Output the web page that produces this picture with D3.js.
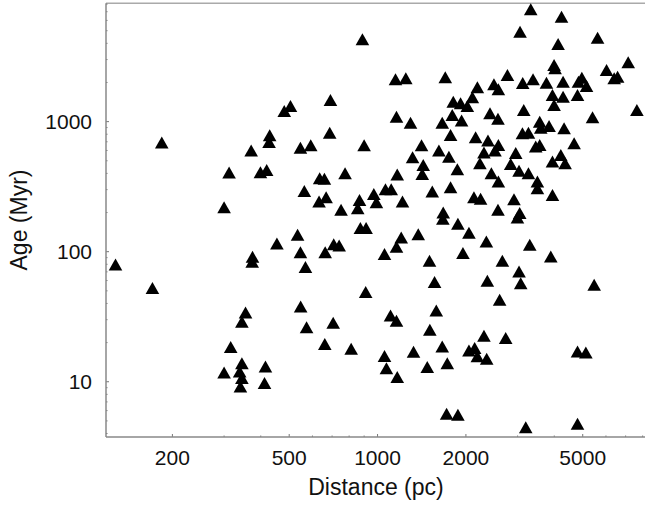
<!DOCTYPE html>
<html>
<head>
<meta charset="utf-8">
<script src="https://cdn.jsdelivr.net/npm/d3@7"></script>
<style>
  body { margin: 0; background: #fff; }
  svg { display: block; }
  text { font-family: "Liberation Sans", Arial, sans-serif; fill: #111; }
</style>
</head>
<body>
<svg id="chart" width="645" height="509"></svg>
<script>
// distance in pc, age in Myr (one entry per cluster)
var distance = [
  184, 128, 171, 300, 312, 371, 429, 427, 399, 419, 481, 505, 454, 375, 374, 355, 345, 316, 300, 345,
  339, 345, 341, 415, 412, 888, 1151, 1248, 691, 1160, 1295, 687, 546, 592, 900, 635, 659, 775, 1167, 1316,
  563, 632, 668, 751, 868, 856, 971, 991, 1064, 1113, 1216, 874, 914, 534, 546, 568, 663, 709, 740, 1056,
  1160, 1204, 911, 547, 573, 706, 661, 813, 1107, 1160, 1056, 1072, 1167, 3058, 3326, 1701, 2770, 2188, 2492, 2580,
  3123, 2104, 1811, 1918, 2022, 1797, 2416, 2572, 3148, 1661, 1933, 1773, 2158, 2378, 2580, 3116, 1412, 1618, 1750, 2304,
  2512, 2956, 1431, 2232, 2842, 1870, 1420, 2442, 2580, 3034, 1536, 1773, 2130, 2244, 2916, 1674, 2572, 3050, 1669, 1878,
  2996, 1376, 2048, 2348, 1954, 1503, 2662, 3034, 3074, 1564, 2366, 2606, 1585, 1507, 2304, 2732, 1661, 1326, 2048, 2142,
  2188, 2354, 1477, 1728, 1719, 1878, 3198, 4234, 4122, 5618, 7144, 3994, 4026, 6028, 6400, 6574, 3386, 3762, 4286, 4836,
  4966, 5152, 3944, 4286, 4800, 3994, 5400, 7648, 3568, 3598, 3840, 4320, 3266, 4674, 3458, 3568, 4210, 3944, 4354, 3266,
  3504, 3504, 3944, 3300, 3892, 5470, 4800, 5124, 4800
];
var age = [
  690, 79.7, 52.5, 220, 406, 599, 786, 698, 409, 425, 1208, 1320, 115.5, 91.3, 83.6, 34.1, 28.9, 18.5, 11.8, 13.9,
  12.0, 10.7, 9.2, 13.1, 9.8, 4296, 2118, 2155, 1468, 1092, 982, 823, 631, 659, 659, 367, 363, 401, 392, 533,
  293, 243, 262, 210, 250, 216, 278, 240, 302, 302, 243, 152, 152, 135, 99.2, 76.1, 99.2, 114.3, 111.5, 95.8,
  109, 128.4, 48.9, 37.9, 26.3, 28.4, 19.5, 17.9, 32.3, 29.4, 15.8, 12.7, 10.9, 4915, 7304, 2194, 2285, 1838, 1938, 1774,
  1983, 1540, 1424, 1385, 1320, 1126, 1160, 1054, 1230, 982, 1018, 790, 759, 715, 662, 814, 659, 599, 538, 578,
  599, 575, 465, 479, 473, 431, 396, 401, 346, 420, 290, 313, 262, 255, 253, 200, 210, 198, 179, 164,
  183, 136, 140, 120, 97.5, 85.1, 85.1, 70.4, 57.3, 58.4, 59.7, 42.7, 35.3, 25.1, 22.6, 21.7, 18.7, 17.0, 17.4, 18.2,
  15.7, 15.0, 13.0, 13.9, 5.68, 5.58, 4.47, 6408, 3954, 4419, 2860, 2726, 2572, 2496, 2155, 2217, 2118, 1994, 2029, 2029,
  2178, 1880, 1604, 1556, 1604, 1344, 1081, 1230, 1000, 899, 927, 890, 823, 683, 643, 662, 555, 493, 479, 401,
  346, 308, 273, 113, 91.8, 55.6, 17.1, 16.8, 4.76
];
var xTickValues = [200, 500, 1000, 2000, 5000];
var yTickValues = [10, 100, 1000];
var xTitle = "Distance (pc)";
var yTitle = "Age (Myr)";

var svg = d3.select("#chart");
var plotLeft = 106, plotRight = 645, plotTop = 3.3, plotBottom = 437;

var x = d3.scaleLog().domain([118.8, 8150]).range([plotLeft, plotRight]);
var y = d3.scaleLog().domain([3.76, 8124]).range([plotBottom, plotTop]);

// frame
svg.append("line")
  .attr("x1", plotLeft).attr("x2", plotRight).attr("y1", plotTop).attr("y2", plotTop)
  .attr("stroke", "#aaa").attr("stroke-width", 1.5);

// minor ticks at every log tick, major ones a little longer
var gx = svg.append("g").attr("transform", "translate(0," + plotBottom + ")");
x.ticks().forEach(function (t) {
  var major = xTickValues.indexOf(t) >= 0;
  gx.append("line").attr("x1", x(t)).attr("x2", x(t))
    .attr("y1", 0).attr("y2", major ? -3 : -1.5)
    .attr("stroke", "#777");
});
gx.append("line").attr("x1", plotLeft).attr("x2", plotRight).attr("y1", 0).attr("y2", 0)
  .attr("stroke", "#888").attr("stroke-width", 1.5);
gx.selectAll(".lbl").data(xTickValues).enter().append("text")
  .attr("class", "lbl")
  .attr("x", function (d) { return x(d); })
  .attr("y", 28)
  .attr("text-anchor", "middle")
  .style("font-size", "21px")
  .text(function (d) { return d; });

var gy = svg.append("g").attr("transform", "translate(" + plotLeft + ",0)");
y.ticks().forEach(function (t) {
  var major = yTickValues.indexOf(t) >= 0;
  gy.append("line").attr("x1", 0).attr("x2", major ? 3 : 1.5)
    .attr("y1", y(t)).attr("y2", y(t))
    .attr("stroke", "#777");
});
gy.append("line").attr("x1", 0).attr("x2", 0).attr("y1", plotTop).attr("y2", plotBottom)
  .attr("stroke", "#888").attr("stroke-width", 1.5);
gy.selectAll(".lbl").data(yTickValues).enter().append("text")
  .attr("class", "lbl")
  .attr("x", -14)
  .attr("y", function (d) { return y(d); })
  .attr("dy", "0.36em")
  .attr("text-anchor", "end")
  .style("font-size", "21px")
  .text(function (d) { return d; });

// axis titles
svg.append("text")
  .attr("x", 376).attr("y", 495)
  .attr("text-anchor", "middle")
  .style("font-size", "23px")
  .text(xTitle);
svg.append("text")
  .attr("transform", "translate(27,220) rotate(-90)")
  .attr("text-anchor", "middle")
  .style("font-size", "23px")
  .text(yTitle);

// triangles, centred on their box
var tri = "M0,-6L6.8,6L-6.8,6Z";
svg.append("g").selectAll("path")
  .data(distance)
  .enter().append("path")
  .attr("d", tri)
  .attr("transform", function (d, i) {
    return "translate(" + x(d) + "," + y(age[i]) + ")";
  })
  .attr("fill", "#000");
</script>
</body>
</html>
